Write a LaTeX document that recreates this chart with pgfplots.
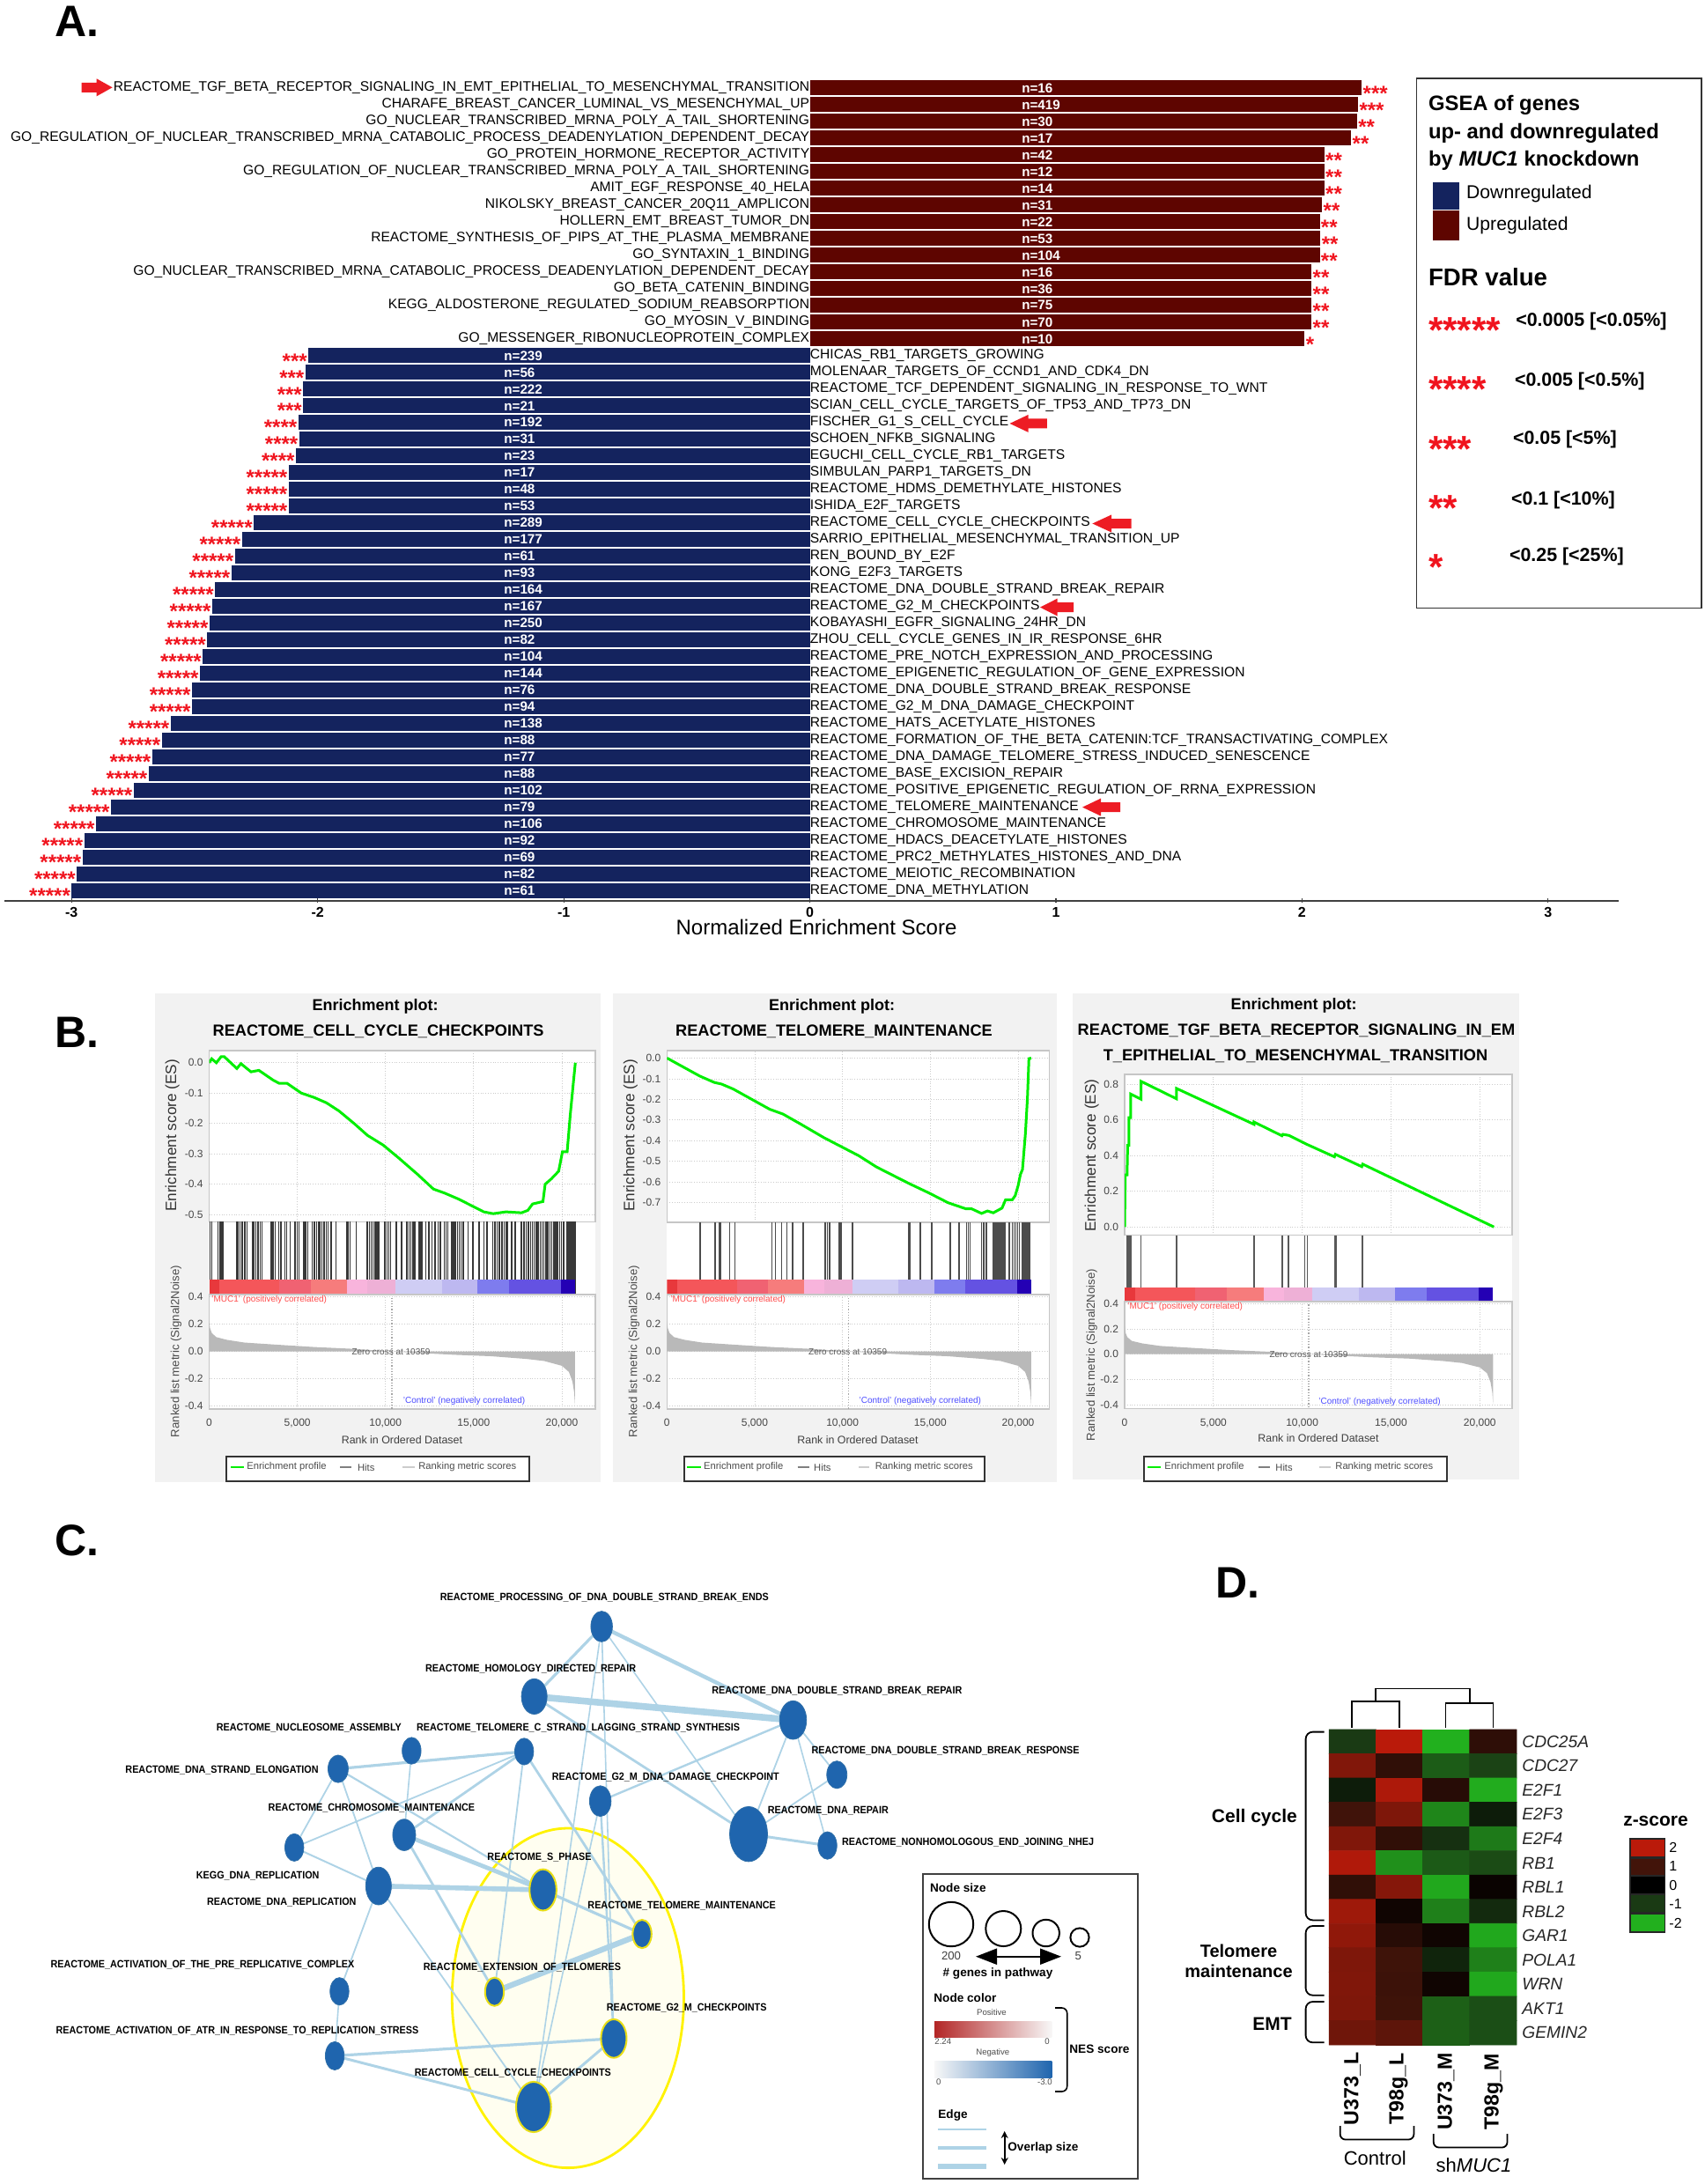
\documentclass[border=0pt]{standalone}
\usepackage{fontspec}
\setmainfont{Liberation Sans}
\usepackage{pgfplots}
\pgfplotsset{compat=1.18}
\usetikzlibrary{arrows.meta}

\definecolor{upc}{HTML}{5E0500}
\definecolor{downc}{HTML}{14235E}
\definecolor{starc}{HTML}{F0141E}
\definecolor{arrowc}{HTML}{ED1C24}
\definecolor{panelbg}{HTML}{F2F2F2}
\definecolor{esgreen}{HTML}{00EE00}
\definecolor{edgec}{HTML}{AED3E6}
\definecolor{nodec}{HTML}{1F65AE}
\definecolor{nodeedge}{HTML}{2F6FA8}

\newcommand{\fs}[1]{\fontsize{#1}{#1}\selectfont}

% 1 px of the reference = 0.5pt here
\pgfplotsset{
  pxbox/.style n args={4}{
    at={({#1*0.5pt},{(2480-#4)*0.5pt})}, anchor=south west,
    width={(#3-#1)*0.5pt}, height={(#4-#2)*0.5pt}, scale only axis},
  overlaypx/.style={pxbox={0}{0}{1936}{2480}, hide axis, clip=false,
    xmin=0, xmax=1936, ymin=0, ymax=2480, y dir=reverse},
  gs/.style={xmin=0, xtick={0,5000,10000,15000,20000}, scaled ticks=false,
    grid=major, grid style={densely dotted, gray!40},
    axis line style={gray!45, line width=.8pt}, major tick length=0pt,
    axis background/.style={fill=white},
    tick label style={font=\fs{6}, text=gray!55!black},
    y tick label style={/pgf/number format/fixed, /pgf/number format/fixed zerofill,
      /pgf/number format/precision=1, /pgf/number format/assume math mode=true},
    xticklabels={}, tick align=inside},
  gsm/.style={gs, xticklabels={0,{5,000},{10,000},{15,000},{20,000}},
    xticklabel style={yshift=-2pt}, ytick={-0.4,-0.2,0,0.2,0.4}},
}

% panel A, one row each: row, NES, n, stars, name
\newcommand{\urow}[5]{%
  \addplot[xbar, bar shift=0pt, bar width=8.5pt, fill=upc, draw=none] coordinates {(#2,-#1)};
  \node[anchor=east, inner sep=0pt, font=\fs{7.8}] at (axis cs:0,-#1) {#5};
  \node[anchor=west, inner sep=0pt, font=\fs{7.6}\bfseries, text=white] at (axis cs:0.86,-#1) {n=#3};
  \node[anchor=west, inner sep=.5pt, font=\fs{12}\bfseries, text=starc, yshift=-3pt] at (axis cs:#2,-#1) {#4};
}
\newcommand{\drow}[5]{%
  \addplot[xbar, bar shift=0pt, bar width=8.5pt, fill=downc, draw=none] coordinates {(#2,-#1)};
  \node[anchor=west, inner sep=0pt, font=\fs{7.8}] at (axis cs:0,-#1) {#5};
  \node[anchor=west, inner sep=0pt, font=\fs{7.6}\bfseries, text=white] at (axis cs:-1.244,-#1) {n=#3};
  \node[anchor=east, inner sep=.5pt, font=\fs{12}\bfseries, text=starc, yshift=-3pt] at (axis cs:#2,-#1) {#4};
}

% panel B helpers
\newcommand{\seg}[3]{\addplot[draw=none, fill=#3, forget plot] coordinates {(#1,0) (#2,0) (#2,0.206) (#1,0.206)} --cycle;}
\newcommand{\strip}{%
  \seg{0}{590}{E8383C}\seg{590}{3980}{F4565A}\seg{3980}{5760}{F06272}\seg{5760}{7810}{F67C7C}%
  \seg{7810}{8970}{F8B4DC}\seg{8970}{10580}{EEB0D6}\seg{10580}{13200}{CFCDF4}\seg{13200}{15220}{BDB8F0}%
  \seg{15220}{17000}{7E7CEE}\seg{17000}{19940}{6452E2}\seg{19940}{20750}{2400B4}%
}
\definecolor{E8383C}{HTML}{E8383C}\definecolor{F4565A}{HTML}{F4565A}\definecolor{F06272}{HTML}{F06272}
\definecolor{F67C7C}{HTML}{F67C7C}\definecolor{F8B4DC}{HTML}{F8B4DC}\definecolor{EEB0D6}{HTML}{EEB0D6}
\definecolor{CFCDF4}{HTML}{CFCDF4}\definecolor{BDB8F0}{HTML}{BDB8F0}\definecolor{7E7CEE}{HTML}{7E7CEE}
\definecolor{6452E2}{HTML}{6452E2}\definecolor{2400B4}{HTML}{2400B4}
\newcommand{\metric}{%
  \addplot[draw=none, fill=gray!55] coordinates {(0,0) (0,0.22) (50,0.17) (150,0.135) (400,0.105) (1000,0.085)
    (2000,0.065) (4000,0.048) (6000,0.032) (8000,0.02) (10359,0) (12000,-0.012) (14000,-0.025) (16000,-0.035)
    (18000,-0.055) (19000,-0.07) (20000,-0.105) (20400,-0.15) (20600,-0.22) (20700,-0.3) (20750,-0.40) (20750,0)} --cycle;
  \addplot[gray!70, densely dotted, line width=.6pt] coordinates {(10359,-0.42) (10359,0.4)};
}
% box x1, x2, line1 x1 x2, text1 x, line2 x1 x2, text2 x, text3 x
\newcommand{\gslegend}[9]{%
  \fill[white] (axis cs:#1,\legy) rectangle (axis cs:#2,\legyy);
  \draw[black!80, line width=1pt] (axis cs:#1,\legy) rectangle (axis cs:#2,\legyy);
  \draw[esgreen, line width=1pt] (axis cs:#3,\legm) -- (axis cs:#4,\legm);
  \node[anchor=west, inner sep=0pt, font=\fs{5.6}, text=black!70] at (axis cs:#5,\legm) {Enrichment profile};
  \draw[gray, line width=.8pt] (axis cs:#6,\legm) -- (axis cs:#7,\legm);
  \node[anchor=west, inner sep=0pt, font=\fs{5.6}, text=black!70] at (axis cs:#8,\legm) {Hits};
  \node[anchor=west, inner sep=0pt, font=\fs{5.6}, text=black!70] at (axis cs:#9,\legm) {Ranking metric scores};
}
\newcommand{\txt}[5]{\node[anchor=#3, inner sep=0pt, font=#4] at (axis cs:#1,#2) {#5};}
\newcommand{\redarrow}[4]{\fill[arrowc] (axis cs:#1,#4) -- (axis cs:#2,#4-10) -- (axis cs:#2,#4-5.5) -- (axis cs:#3,#4-5.5)
  -- (axis cs:#3,#4+5.5) -- (axis cs:#2,#4+5.5) -- (axis cs:#2,#4+10) -- cycle;}

% panel C helpers, in the crop's own units
\newcommand{\edge}[5]{\addplot[edgec, line width=#5pt] coordinates {(#1,#2) (#3,#4)};}
\newcommand{\netnode}[4]{\addplot[only marks, mark=*, mark size={#4*0.1116},
  mark options={xscale={#3/#4*1.714}, fill=nodec, draw=nodeedge, line width=.4pt}] coordinates {(#1,#2)};}
\newcommand{\hotnode}[4]{\addplot[only marks, mark=*, mark size={#4*0.1116},
  mark options={xscale={#3/#4*1.714}, fill=nodec, draw=yellow!90!black, line width=1pt}] coordinates {(#1,#2)};}
\newcommand{\netlab}[3]{\node[anchor=west, inner sep=0pt, font=\fs{6}\bfseries] at (axis cs:#1,#2) {\scalebox{.9}[1]{#3}};}
\newcommand{\gene}[2]{\node[anchor=west, inner sep=0pt, font=\fs{9.6}\itshape, xshift=3pt, text=black!85] at (axis cs:3.5,#1) {#2};}

\begin{document}
\begin{tikzpicture}
\path[use as bounding box] (0,0) rectangle (968pt,1240pt);

% panel backgrounds
\begin{axis}[overlaypx]
  \fill[panelbg] (axis cs:176,1128) rectangle (axis cs:682,1683);
  \fill[panelbg] (axis cs:696,1128) rectangle (axis cs:1200,1683);
  \fill[panelbg] (axis cs:1218,1128) rectangle (axis cs:1725,1680);
\end{axis}

% ---------- A ----------
\begin{axis}[pxbox={5}{81}{1838}{1023}, clip=false,
  xmin=-3.273, xmax=3.287, ymin=-49.61, ymax=0,
  axis x line=bottom, axis y line=none,
  axis line style={-, line width=1pt, black!75},
  xtick={-3,-2,-1,0,1,2,3}, tick style={black!75, line width=.6pt}, major tick length=2.5pt,
  x tick label style={font=\fs{8}\bfseries, /pgf/number format/assume math mode=true, yshift=1pt},
  xlabel={Normalized Enrichment Score},
  xlabel style={at={(axis description cs:.503,-.032)}, anchor=center, font=\fs{12}}]
\urow{1}{2.243}{16}{***}{REACTOME\_TGF\_BETA\_RECEPTOR\_SIGNALING\_IN\_EMT\_EPITHELIAL\_TO\_MESENCHYMAL\_TRANSITION}
\urow{2}{2.228}{419}{***}{CHARAFE\_BREAST\_CANCER\_LUMINAL\_VS\_MESENCHYMAL\_UP}
\urow{3}{2.224}{30}{**}{GO\_NUCLEAR\_TRANSCRIBED\_MRNA\_POLY\_A\_TAIL\_SHORTENING}
\urow{4}{2.200}{17}{**}{GO\_REGULATION\_OF\_NUCLEAR\_TRANSCRIBED\_MRNA\_CATABOLIC\_PROCESS\_DEADENYLATION\_DEPENDENT\_DECAY}
\urow{5}{2.091}{42}{**}{GO\_PROTEIN\_HORMONE\_RECEPTOR\_ACTIVITY}
\urow{6}{2.091}{12}{**}{GO\_REGULATION\_OF\_NUCLEAR\_TRANSCRIBED\_MRNA\_POLY\_A\_TAIL\_SHORTENING}
\urow{7}{2.091}{14}{**}{AMIT\_EGF\_RESPONSE\_40\_HELA}
\urow{8}{2.082}{31}{**}{NIKOLSKY\_BREAST\_CANCER\_20Q11\_AMPLICON}
\urow{9}{2.072}{22}{**}{HOLLERN\_EMT\_BREAST\_TUMOR\_DN}
\urow{10}{2.075}{53}{**}{REACTOME\_SYNTHESIS\_OF\_PIPS\_AT\_THE\_PLASMA\_MEMBRANE}
\urow{11}{2.072}{104}{**}{GO\_SYNTAXIN\_1\_BINDING}
\urow{12}{2.039}{16}{**}{GO\_NUCLEAR\_TRANSCRIBED\_MRNA\_CATABOLIC\_PROCESS\_DEADENYLATION\_DEPENDENT\_DECAY}
\urow{13}{2.039}{36}{**}{GO\_BETA\_CATENIN\_BINDING}
\urow{14}{2.039}{75}{**}{KEGG\_ALDOSTERONE\_REGULATED\_SODIUM\_REABSORPTION}
\urow{15}{2.039}{70}{**}{GO\_MYOSIN\_V\_BINDING}
\urow{16}{2.011}{10}{*}{GO\_MESSENGER\_RIBONUCLEOPROTEIN\_COMPLEX}
\drow{17}{-2.038}{239}{***}{CHICAS\_RB1\_TARGETS\_GROWING}
\drow{18}{-2.050}{56}{***}{MOLENAAR\_TARGETS\_OF\_CCND1\_AND\_CDK4\_DN}
\drow{19}{-2.059}{222}{***}{REACTOME\_TCF\_DEPENDENT\_SIGNALING\_IN\_RESPONSE\_TO\_WNT}
\drow{20}{-2.059}{21}{***}{SCIAN\_CELL\_CYCLE\_TARGETS\_OF\_TP53\_AND\_TP73\_DN}
\drow{21}{-2.079}{192}{****}{FISCHER\_G1\_S\_CELL\_CYCLE}
\drow{22}{-2.075}{31}{****}{SCHOEN\_NFKB\_SIGNALING}
\drow{23}{-2.089}{23}{****}{EGUCHI\_CELL\_CYCLE\_RB1\_TARGETS}
\drow{24}{-2.118}{17}{*****}{SIMBULAN\_PARP1\_TARGETS\_DN}
\drow{25}{-2.118}{48}{*****}{REACTOME\_HDMS\_DEMETHYLATE\_HISTONES}
\drow{26}{-2.118}{53}{*****}{ISHIDA\_E2F\_TARGETS}
\drow{27}{-2.260}{289}{*****}{REACTOME\_CELL\_CYCLE\_CHECKPOINTS}
\drow{28}{-2.308}{177}{*****}{SARRIO\_EPITHELIAL\_MESENCHYMAL\_TRANSITION\_UP}
\drow{29}{-2.337}{61}{*****}{REN\_BOUND\_BY\_E2F}
\drow{30}{-2.351}{93}{*****}{KONG\_E2F3\_TARGETS}
\drow{31}{-2.417}{164}{*****}{REACTOME\_DNA\_DOUBLE\_STRAND\_BREAK\_REPAIR}
\drow{32}{-2.429}{167}{*****}{REACTOME\_G2\_M\_CHECKPOINTS}
\drow{33}{-2.440}{250}{*****}{KOBAYASHI\_EGFR\_SIGNALING\_24HR\_DN}
\drow{34}{-2.449}{82}{*****}{ZHOU\_CELL\_CYCLE\_GENES\_IN\_IR\_RESPONSE\_6HR}
\drow{35}{-2.467}{104}{*****}{REACTOME\_PRE\_NOTCH\_EXPRESSION\_AND\_PROCESSING}
\drow{36}{-2.479}{144}{*****}{REACTOME\_EPIGENETIC\_REGULATION\_OF\_GENE\_EXPRESSION}
\drow{37}{-2.511}{76}{*****}{REACTOME\_DNA\_DOUBLE\_STRAND\_BREAK\_RESPONSE}
\drow{38}{-2.511}{94}{*****}{REACTOME\_G2\_M\_DNA\_DAMAGE\_CHECKPOINT}
\drow{39}{-2.598}{138}{*****}{REACTOME\_HATS\_ACETYLATE\_HISTONES}
\drow{40}{-2.634}{88}{*****}{REACTOME\_FORMATION\_OF\_THE\_BETA\_CATENIN:TCF\_TRANSACTIVATING\_COMPLEX}
\drow{41}{-2.673}{77}{*****}{REACTOME\_DNA\_DAMAGE\_TELOMERE\_STRESS\_INDUCED\_SENESCENCE}
\drow{42}{-2.687}{88}{*****}{REACTOME\_BASE\_EXCISION\_REPAIR}
\drow{43}{-2.748}{102}{*****}{REACTOME\_POSITIVE\_EPIGENETIC\_REGULATION\_OF\_RRNA\_EXPRESSION}
\drow{44}{-2.840}{79}{*****}{REACTOME\_TELOMERE\_MAINTENANCE}
\drow{45}{-2.901}{106}{*****}{REACTOME\_CHROMOSOME\_MAINTENANCE}
\drow{46}{-2.949}{92}{*****}{REACTOME\_HDACS\_DEACETYLATE\_HISTONES}
\drow{47}{-2.956}{69}{*****}{REACTOME\_PRC2\_METHYLATES\_HISTONES\_AND\_DNA}
\drow{48}{-2.979}{82}{*****}{REACTOME\_MEIOTIC\_RECOMBINATION}
\drow{49}{-3.000}{61}{*****}{REACTOME\_DNA\_METHYLATION}
\end{axis}

% ---------- B, cell cycle checkpoints ----------
\begin{axis}[gs, pxbox={237.5}{1193}{676}{1387.5}, xmax=21900, ymin=-0.524, ymax=0.04,
  ytick={-0.5,-0.4,-0.3,-0.2,-0.1,0}]
\addplot[esgreen, line width=1.5pt] coordinates {(0,0) (143,0.013) (410,0) (678,0.02) (856,0.02) (1570,-0.019) (1802,-0.003)
  (2373,-0.03) (2819,-0.025) (3622,-0.057) (3978,-0.068) (4424,-0.068) (5227,-0.10) (5941,-0.114) (6654,-0.132) (7368,-0.159)
  (8260,-0.202) (8974,-0.239) (9866,-0.271) (10758,-0.314) (11828,-0.368) (12720,-0.416) (13345,-0.429) (14147,-0.449)
  (14861,-0.47) (15574,-0.491) (16110,-0.497) (16823,-0.491) (17716,-0.494) (18073,-0.486) (18340,-0.465) (18929,-0.457)
  (19054,-0.40) (19410,-0.382) (19820,-0.357) (20034,-0.293) (20302,-0.293) (20480,-0.17) (20659,-0.062) (20766,0)};
\end{axis}
\begin{axis}[pxbox={237.5}{1387.5}{676}{1470}, xmin=0, xmax=21900, ymin=0, ymax=1, hide y axis, axis line style={gray!45}, xtick=\empty, axis background/.style={fill=white}]
\addplot[ycomb, no markers, black!78, line width=.75pt] coordinates {(54,1)(143,1)(500,1)(589,1)(678,1)(767,1)(1570,1)(1659,1)(1748,1)(1873,1)(2016,1)(2159,1)
 (2462,1)(2551,1)(2640,1)(2765,1)(2908,1)(2997,1)(3532,1)(3622,1)(3746,1)(3943,1)(4068,1)(4299,1)(4389,1)(4603,1)(4870,1)(4995,1)(5102,1)
 (5370,1)(5477,1)(5584,1)(5852,1)(5976,1)(6083,1)(6208,1)(6298,1)(6387,1)(6512,1)(6654,1)(6744,1)(6922,1)(7190,1)(7814,1)(7903,1)(7992,1)(8349,1)
 (8974,1)(9081,1)(9188,1)(9295,1)(9402,1)(9509,1)(9616,1)(9955,1)(10080,1)(10187,1)(10294,1)(10615,1)(10900,1)(11204,1)(11328,1)(11435,1)(11560,1)(11650,1)(11917,1)(12006,1)(12096,1)
 (12274,1)(12452,1)(12631,1)(12809,1)(12988,1)(13112,1)(13344,1)(13434,1)(13523,1)(13755,1)(13862,1)(13969,1)(14076,1)(14182,1)(14289,1)(14415,1)(14683,1)(14950,1)(15307,1)(15574,1)(15753,1)
 (16074,1)(16199,1)(16324,1)(16467,1)(16609,1)(16734,1)(16823,1)(16912,1)(17144,1)(17358,1)(17715,1)(17858,1)(17983,1)
 (18108,1)(18220,1)(18330,1)(18440,1)(18550,1)(18660,1)(18770,1)(18880,1)(18990,1)(19100,1)(19210,1)(19320,1)(19430,1)(19540,1)(19650,1)(19760,1)(19870,1)(19980,1)(20090,1)
 (20300,1)(20350,1)(20400,1)(20450,1)(20500,1)(20550,1)(20600,1)(20650,1)(20700,1)(20750,1)};
\strip
\end{axis}
\begin{axis}[gsm, pxbox={237.5}{1470}{676}{1600}, xmax=21900, ymin=-0.422, ymax=0.417]
\metric
\end{axis}

% ---------- B, telomere maintenance ----------
\begin{axis}[gs, pxbox={757.3}{1193}{1191.5}{1388}, xmax=21780, ymin=-0.795, ymax=0.036,
  ytick={-0.7,-0.6,-0.5,-0.4,-0.3,-0.2,-0.1,0}]
\addplot[esgreen, line width=1.5pt] coordinates {(0,0) (1864,-0.087) (2696,-0.118) (3112,-0.126) (3777,-0.15) (4942,-0.205)
  (5857,-0.248) (6606,-0.271) (7604,-0.319) (8936,-0.385) (9934,-0.429) (10932,-0.473) (11931,-0.527) (13761,-0.606) (14926,-0.653)
  (16008,-0.70) (17006,-0.729) (17339,-0.729) (17921,-0.752) (18254,-0.74) (18587,-0.749) (19086,-0.726) (19286,-0.686) (19668,-0.686)
  (19835,-0.666) (20001,-0.618) (20134,-0.563) (20251,-0.539) (20417,-0.366) (20534,-0.192) (20617,-0.003) (20750,0)};
\end{axis}
\begin{axis}[pxbox={757.3}{1388}{1191.5}{1470}, xmin=0, xmax=21780, ymin=0, ymax=1, hide y axis, axis line style={gray!45}, xtick=\empty, axis background/.style={fill=white}]
\addplot[ycomb, no markers, black!70, line width=.75pt] coordinates {(1864,1)(1914,1)(2746,1)(2995,1)(3078,1)(3561,1)(3860,1)(5974,1)(6190,1)(6523,1)(6822,1)(7155,1)(7771,1)
 (9019,1)(9135,1)(9269,1)(9818,1)(9917,1)(10566,1)(13778,1)(13844,1)(14427,1)(15092,1)(16141,1)(16640,1)(17056,1)(17156,1)(17256,1)(17921,1)(18054,1)(18188,1)
 (18587,1)(18687,1)(18787,1)(18886,1)(18986,1)(19086,1)(19186,1)(19269,1)(19502,1)(19668,1)(19785,1)(19885,1)(19985,1)(20085,1)
 (20218,1)(20284,1)(20351,1)(20417,1)(20484,1)(20550,1)(20617,1)(20667,1)};
\strip
\end{axis}
\begin{axis}[gsm, pxbox={757.3}{1470}{1191.5}{1600}, xmax=21780, ymin=-0.422, ymax=0.417]
\metric
\end{axis}

% ---------- B, TGF beta ----------
\begin{axis}[gs, pxbox={1277}{1220}{1717}{1402.6}, xmax=21820, ymin=-0.046, ymax=0.855,
  ytick={0,0.2,0.4,0.6,0.8}]
\addplot[esgreen, line width=1.5pt] coordinates {(0,0) (34,0.292) (137,0.292) (171,0.457) (239,0.457) (239,0.612) (342,0.612) (342,0.745)
  (923,0.716) (923,0.816) (2924,0.718) (2924,0.776) (7285,0.575) (7285,0.588) (8858,0.511) (8909,0.519) (9251,0.513) (10192,0.466)
  (11816,0.393) (11867,0.407) (13355,0.338) (13406,0.352) (20794,0)};
\end{axis}
\begin{axis}[pxbox={1277}{1402.6}{1717}{1477.8}, xmin=0, xmax=21820, ymin=0, ymax=1, hide y axis, axis line style={gray!45}, xtick=\empty, axis background/.style={fill=white}]
\addplot[ycomb, no markers, black!65, line width=.75pt] coordinates {(137,1)(205,1)(273,1)(342,1)(923,1)(2924,1)(7285,1)(8858,1)(8909,1)(9217,1)(10140,1)(10277,1)(11816,1)(11902,1)(13389,1)};
\strip
\end{axis}
\begin{axis}[gsm, pxbox={1277}{1477.8}{1717}{1599.6}, xmax=21820, ymin=-0.432, ymax=0.418]
\metric
\end{axis}

% ---------- C, network, in crop units ----------
\begin{axis}[pxbox={100}{1780}{1300}{2480}, hide axis, clip=false, xmin=0, xmax=1568, ymin=0, ymax=1568, y dir=reverse]
\draw[yellow, line width=1.4pt, fill=yellow!6] (axis cs:712,1095) ellipse [x radius=65.8pt, y radius=96.4pt];
\edge{762}{150}{662}{328}{1.6}
\edge{762}{150}{1046}{388}{2.2}
\edge{762}{150}{780}{1198}{.8}
\edge{762}{150}{661}{1372}{.8}
\edge{762}{150}{980}{678}{.8}
\edge{662}{328}{1046}{388}{3.8}
\edge{662}{328}{980}{678}{1.4}
\edge{1046}{388}{760}{594}{1.2}
\edge{1046}{388}{980}{678}{.9}
\edge{1046}{388}{1111}{527}{.9}
\edge{1046}{388}{1097}{707}{.8}
\edge{1111}{527}{980}{678}{.9}
\edge{980}{678}{1097}{707}{1.5}
\edge{371}{512}{647}{468}{1.6}
\edge{371}{512}{431}{810}{.9}
\edge{371}{512}{675}{820}{1.1}
\edge{371}{512}{306}{712}{.9}
\edge{480}{466}{469}{680}{.8}
\edge{647}{468}{306}{712}{.9}
\edge{647}{468}{469}{680}{1.4}
\edge{647}{468}{822}{932}{1.4}
\edge{647}{468}{603}{1079}{.9}
\edge{469}{680}{675}{820}{2.4}
\edge{469}{680}{603}{1079}{1.4}
\edge{306}{712}{431}{810}{1}
\edge{431}{810}{675}{820}{2.8}
\edge{431}{810}{661}{1372}{.9}
\edge{431}{810}{373}{1078}{.9}
\edge{675}{820}{822}{932}{1.6}
\edge{822}{932}{603}{1079}{3.2}
\edge{760}{594}{780}{1198}{1.2}
\edge{760}{594}{661}{1372}{.8}
\edge{373}{1078}{366}{1242}{.8}
\edge{366}{1242}{780}{1198}{1.6}
\edge{366}{1242}{661}{1372}{1.5}
\edge{780}{1198}{661}{1372}{1.5}
\netnode{762}{150}{32}{78}
\netnode{662}{328}{38}{90}
\netnode{1046}{388}{40}{98}
\netnode{480}{466}{28}{68}
\netnode{647}{468}{28}{68}
\netnode{371}{512}{30}{70}
\netnode{1111}{527}{30}{70}
\netnode{760}{594}{32}{78}
\netnode{980}{678}{56}{140}
\netnode{1097}{707}{28}{70}
\netnode{469}{680}{34}{80}
\netnode{306}{712}{28}{70}
\netnode{431}{810}{38}{96}
\hotnode{675}{820}{40}{105}
\hotnode{822}{932}{28}{72}
\hotnode{603}{1079}{28}{72}
\netnode{373}{1078}{28}{70}
\hotnode{780}{1198}{38}{98}
\netnode{366}{1242}{28}{72}
\hotnode{661}{1372}{52}{128}
\netlab{522}{76}{REACTOME\_PROCESSING\_OF\_DNA\_DOUBLE\_STRAND\_BREAK\_ENDS}
\netlab{500}{257}{REACTOME\_HOMOLOGY\_DIRECTED\_REPAIR}
\netlab{925}{313}{REACTOME\_DNA\_DOUBLE\_STRAND\_BREAK\_REPAIR}
\netlab{190}{408}{REACTOME\_NUCLEOSOME\_ASSEMBLY}
\netlab{487}{408}{REACTOME\_TELOMERE\_C\_STRAND\_LAGGING\_STRAND\_SYNTHESIS}
\netlab{1073}{466}{REACTOME\_DNA\_DOUBLE\_STRAND\_BREAK\_RESPONSE}
\netlab{55}{515}{REACTOME\_DNA\_STRAND\_ELONGATION}
\netlab{688}{533}{REACTOME\_G2\_M\_DNA\_DAMAGE\_CHECKPOINT}
\netlab{267}{612}{REACTOME\_CHROMOSOME\_MAINTENANCE}
\netlab{1008}{619}{REACTOME\_DNA\_REPAIR}
\netlab{1118}{698}{REACTOME\_NONHOMOLOGOUS\_END\_JOINING\_NHEJ}
\netlab{592}{736}{REACTOME\_S\_PHASE}
\netlab{160}{785}{KEGG\_DNA\_REPLICATION}
\netlab{176}{851}{REACTOME\_DNA\_REPLICATION}
\netlab{741}{861}{REACTOME\_TELOMERE\_MAINTENANCE}
\netlab{-56}{1010}{REACTOME\_ACTIVATION\_OF\_THE\_PRE\_REPLICATIVE\_COMPLEX}
\netlab{497}{1016}{REACTOME\_EXTENSION\_OF\_TELOMERES}
\netlab{769}{1120}{REACTOME\_G2\_M\_CHECKPOINTS}
\netlab{-48}{1178}{REACTOME\_ACTIVATION\_OF\_ATR\_IN\_RESPONSE\_TO\_REPLICATION\_STRESS}
\netlab{484}{1286}{REACTOME\_CELL\_CYCLE\_CHECKPOINTS}
\end{axis}

% ---------- D, heat map ----------
\begin{axis}[pxbox={1509.2}{1964}{1722}{2322}, hide axis, clip=false, xmin=-0.5, xmax=3.5, ymin=-0.5, ymax=12.5, y dir=reverse,
  colormap={hm}{rgb255=(34,176,30) rgb255=(26,58,20) rgb255=(0,0,0) rgb255=(66,20,10) rgb255=(186,26,10)},
  point meta min=-2, point meta max=2]
\addplot[matrix plot*, mesh/cols=4, point meta=explicit, draw=none] table[x=x, y=y, meta=z] {
x y z
0 0 -1.00
1 0 2.00
2 0 -2.00
3 0 0.70
0 1 1.53
1 1 0.73
2 1 -1.29
3 1 -1.08
0 2 -0.48
1 2 1.89
2 2 0.60
3 2 -1.97
0 3 0.97
1 3 1.50
2 3 -1.64
3 3 -0.48
0 4 1.52
1 4 0.73
2 4 -0.83
3 4 -1.54
0 5 1.92
1 5 -1.73
2 5 -1.27
3 5 -1.14
0 6 0.73
1 6 1.56
2 6 -1.93
3 6 0.15
0 7 1.77
1 7 0.24
2 7 -1.59
3 7 -0.72
0 8 1.65
1 8 0.60
2 8 0.24
3 8 -1.93
0 9 1.50
1 9 0.94
2 9 -0.62
3 9 -1.59
0 10 1.52
1 10 0.91
2 10 0.24
3 10 -1.93
0 11 1.50
1 11 0.94
2 11 -1.32
3 11 -1.17
0 12 1.38
1 12 1.23
2 12 -1.32
3 12 -1.17
};
\gene{0}{CDC25A}\gene{1}{CDC27}\gene{2}{E2F1}\gene{3}{E2F3}\gene{4}{E2F4}\gene{5}{RB1}\gene{6}{RBL1}
\gene{7}{RBL2}\gene{8}{GAR1}\gene{9}{POLA1}\gene{10}{WRN}\gene{11}{AKT1}\gene{12}{GEMIN2}
\end{axis}

% ---------- text and furniture in reference pixels ----------
\begin{axis}[overlaypx]
% panel letters
\txt{62}{24}{west}{\fs{25}\bfseries}{A.}
\txt{62}{1172}{west}{\fs{25}\bfseries}{B.}
\txt{62}{1749}{west}{\fs{25}\bfseries}{C.}
\txt{1380}{1797}{west}{\fs{25}\bfseries}{D.}

% A arrows
\redarrow{127.6}{109.7}{92.5}{99.3}
\redarrow{1146.5}{1167.7}{1188.8}{480.9}
\redarrow{1240.4}{1262}{1284.7}{594.5}
\redarrow{1181}{1200.7}{1219}{689.6}
\redarrow{1229}{1250}{1272}{916.6}

% A legend
\draw[black!80, line width=.9pt] (axis cs:1608.5,88.6) rectangle (axis cs:1932,690.5);
\txt{1621.7}{119.8}{west}{\fs{11.9}\bfseries}{GSEA of genes}
\txt{1621.7}{151}{west}{\fs{11.9}\bfseries}{up- and downregulated}
\txt{1621.7}{182}{west}{\fs{11.9}\bfseries}{by \textit{MUC1} knockdown}
\fill[downc] (axis cs:1627,206.5) rectangle (axis cs:1657,237.6);
\fill[upc] (axis cs:1627,239) rectangle (axis cs:1657,272.5);
\txt{1664.7}{220}{west}{\fs{10.6}}{Downregulated}
\txt{1664.7}{256.5}{west}{\fs{10.6}}{Upregulated}
\txt{1621.7}{314.6}{west}{\fs{13.8}\bfseries}{FDR value}
\txt{1621.7}{375}{west}{\fs{21}\bfseries\color{starc}}{*****}
\txt{1621.7}{442}{west}{\fs{21}\bfseries\color{starc}}{****}
\txt{1621.7}{510}{west}{\fs{21}\bfseries\color{starc}}{***}
\txt{1621.7}{577}{west}{\fs{21}\bfseries\color{starc}}{**}
\txt{1621.7}{644}{west}{\fs{21}\bfseries\color{starc}}{*}
\txt{1720.9}{365}{west}{\fs{10.7}\bfseries}{<0.0005 [<0.05\%]}
\txt{1719.6}{432.5}{west}{\fs{10.7}\bfseries}{<0.005 [<0.5\%]}
\txt{1717.6}{498.6}{west}{\fs{10.7}\bfseries}{<0.05 [<5\%]}
\txt{1715.6}{568}{west}{\fs{10.7}\bfseries}{<0.1 [<10\%]}
\txt{1713.6}{632.4}{west}{\fs{10.7}\bfseries}{<0.25 [<25\%]}

% B titles, labels
\txt{426}{1143}{center}{\fs{9}\bfseries}{Enrichment plot:}
\txt{429.6}{1171}{center}{\fs{9.1}\bfseries}{REACTOME\_CELL\_CYCLE\_CHECKPOINTS}
\txt{944.7}{1143}{center}{\fs{9}\bfseries}{Enrichment plot:}
\txt{947}{1171}{center}{\fs{9.1}\bfseries}{REACTOME\_TELOMERE\_MAINTENANCE}
\txt{1469}{1142}{center}{\fs{9}\bfseries}{Enrichment plot:}
\txt{1472}{1170}{center}{\fs{9.1}\bfseries}{REACTOME\_TGF\_BETA\_RECEPTOR\_SIGNALING\_IN\_EM}
\txt{1471}{1199.6}{center}{\fs{9.1}\bfseries}{T\_EPITHELIAL\_TO\_MESENCHYMAL\_TRANSITION}

\node[rotate=90, inner sep=0pt, font=\fs{8.6}, text=black!80] at (axis cs:195.7,1289.4) {Enrichment score (ES)};
\node[rotate=90, inner sep=0pt, font=\fs{6.6}, text=black!70] at (axis cs:200,1534.5) {Ranked list metric (Signal2Noise)};
\node[rotate=90, inner sep=0pt, font=\fs{8.6}, text=black!80] at (axis cs:715.9,1289.4) {Enrichment score (ES)};
\node[rotate=90, inner sep=0pt, font=\fs{6.6}, text=black!70] at (axis cs:719.9,1534.5) {Ranked list metric (Signal2Noise)};
\node[rotate=90, inner sep=0pt, font=\fs{8.6}, text=black!80] at (axis cs:1239.6,1312) {Enrichment score (ES)};
\node[rotate=90, inner sep=0pt, font=\fs{6.6}, text=black!70] at (axis cs:1239.6,1538.5) {Ranked list metric (Signal2Noise)};

\txt{456.4}{1634.6}{center}{\fs{6.2}\color{black!75}}{Rank in Ordered Dataset}
\txt{974}{1634.6}{center}{\fs{6.2}\color{black!75}}{Rank in Ordered Dataset}
\txt{1497}{1633}{center}{\fs{6.2}\color{black!75}}{Rank in Ordered Dataset}

\txt{240}{1476}{west}{\fs{5}\color{red!70}}{'MUC1' (positively correlated)}
\txt{761}{1476}{west}{\fs{5}\color{red!70}}{'MUC1' (positively correlated)}
\txt{1280}{1484}{west}{\fs{5}\color{red!70}}{'MUC1' (positively correlated)}
\txt{457.5}{1591}{west}{\fs{5}\color{blue!70}}{'Control' (negatively correlated)}
\txt{975.2}{1591}{west}{\fs{5}\color{blue!70}}{'Control' (negatively correlated)}
\txt{1497}{1591.5}{west}{\fs{5}\color{blue!70}}{'Control' (negatively correlated)}
\txt{444}{1535.5}{center}{\fs{5}\color{black!65}}{Zero cross at 10359}
\txt{962.6}{1535.5}{center}{\fs{5}\color{black!65}}{Zero cross at 10359}
\txt{1486}{1537.8}{center}{\fs{5}\color{black!65}}{Zero cross at 10359}

\def\legy{1654}\def\legyy{1681.6}\def\legm{1666}
\gslegend{257}{601}{262}{277}{280}{386}{399}{405.7}{475}
\draw[gray!40, line width=.7pt] (axis cs:457,1666) -- (axis cs:471,1666);
\gslegend{777}{1118}{780}{795.5}{798.8}{905.6}{918.8}{923.8}{993.5}
\draw[gray!40, line width=.7pt] (axis cs:975,1666) -- (axis cs:987,1666);
\gslegend{1299}{1643}{1303}{1318}{1322}{1429}{1442}{1448}{1516}
\draw[gray!40, line width=.7pt] (axis cs:1498,1666) -- (axis cs:1511,1666);

% C legend
\draw[black!75, line width=.9pt] (axis cs:1048,2128) rectangle (axis cs:1292,2474);
\txt{1055.7}{2144}{west}{\fs{6.8}\bfseries}{Node size}
\draw[black, line width=1pt] (axis cs:1080,2185) circle [radius=12.6pt];
\draw[black, line width=1pt] (axis cs:1139.3,2190) circle [radius=10pt];
\draw[black, line width=1pt] (axis cs:1187.7,2195) circle [radius=7.6pt];
\draw[black, line width=1pt] (axis cs:1226,2200) circle [radius=5.3pt];
\txt{1080}{2221}{center}{\fs{6.6}\color{black!75}}{200}
\txt{1224.3}{2221}{center}{\fs{6.6}\color{black!75}}{5}
\draw[{Triangle[width=9pt,length=12pt]}-{Triangle[width=9pt,length=12pt]}, line width=1.1pt] (axis cs:1108,2221.7) -- (axis cs:1205,2221.7);
\txt{1133}{2240.7}{center}{\fs{6.8}\bfseries}{\# genes in pathway}
\txt{1060}{2269}{west}{\fs{6.8}\bfseries}{Node color}
\txt{1126}{2285}{center}{\fs{4.8}\color{black!70}}{Positive}
\shade[left color=red!65!black!85, right color=black!3] (axis cs:1061,2295) rectangle (axis cs:1194.3,2313.3);
\txt{1061}{2318.5}{west}{\fs{4.8}\color{black!70}}{2.24}
\txt{1192}{2318.5}{east}{\fs{4.8}\color{black!70}}{0}
\txt{1127.3}{2330.7}{center}{\fs{4.8}\color{black!70}}{Negative}
\shade[left color=black!3, right color=nodec] (axis cs:1061,2340.7) rectangle (axis cs:1194.3,2359.3);
\txt{1062.7}{2364.5}{west}{\fs{4.8}\color{black!70}}{0}
\txt{1195}{2364.5}{east}{\fs{4.8}\color{black!70}}{-3.0}
\draw[black, line width=.8pt, rounded corners=3pt] (axis cs:1198,2280) -- (axis cs:1211.7,2280) -- (axis cs:1211.7,2375) -- (axis cs:1198,2375);
\txt{1214}{2326.7}{west}{\fs{6.8}\bfseries}{NES score}
\txt{1065}{2402}{west}{\fs{6.8}\bfseries}{Edge}
\draw[edgec, line width=1pt] (axis cs:1065,2418) -- (axis cs:1120,2418);
\draw[edgec, line width=1.8pt] (axis cs:1065,2439) -- (axis cs:1120,2439);
\draw[edgec, line width=3.4pt] (axis cs:1065,2460) -- (axis cs:1120,2460);
\draw[{Stealth[width=4pt,length=4pt]}-{Stealth[width=4pt,length=4pt]}, line width=.8pt] (axis cs:1140.7,2420) -- (axis cs:1140.7,2458);
\txt{1144}{2439.3}{west}{\fs{6.8}\bfseries}{Overlap size}

% D dendrogram and brackets
\addplot[black, line width=.9pt, forget plot] coordinates {(1535,1962) (1535,1931.8) (1589,1931.8) (1589,1962)};
\addplot[black, line width=.9pt, forget plot] coordinates {(1641.5,1962) (1641.5,1934) (1695.5,1934) (1695.5,1962)};
\addplot[black, line width=.9pt, forget plot] coordinates {(1561.7,1931.8) (1561.7,1917.5) (1669,1917.5) (1669,1934)};
\draw[black, line width=.9pt, rounded corners=4pt] (axis cs:1503.5,1966.6) -- (axis cs:1482.6,1966.6) -- (axis cs:1482.6,2180.4) -- (axis cs:1503.5,2180.4);
\draw[black, line width=.9pt, rounded corners=4pt] (axis cs:1503.5,2187) -- (axis cs:1482.6,2187) -- (axis cs:1482.6,2265.7) -- (axis cs:1503.5,2265.7);
\draw[black, line width=.9pt, rounded corners=4pt] (axis cs:1503.5,2273) -- (axis cs:1482.6,2273) -- (axis cs:1482.6,2319.3) -- (axis cs:1503.5,2319.3);
\txt{1424.4}{2064}{center}{\fs{10.5}\bfseries}{Cell cycle}
\txt{1406.5}{2215.7}{center}{\fs{10}\bfseries}{Telomere}
\txt{1406.5}{2238.5}{center}{\fs{10}\bfseries}{maintenance}
\txt{1444.6}{2298}{center}{\fs{10.5}\bfseries}{EMT}
\node[rotate=90, inner sep=0pt, font=\fs{11.6}\bfseries] at (axis cs:1535.8,2372) {U373\_L};
\node[rotate=90, inner sep=0pt, font=\fs{11.6}\bfseries] at (axis cs:1588,2372) {T98g\_L};
\node[rotate=90, inner sep=0pt, font=\fs{11.6}\bfseries] at (axis cs:1642,2375) {U373\_M};
\node[rotate=90, inner sep=0pt, font=\fs{11.6}\bfseries] at (axis cs:1696,2375) {T98g\_M};
\draw[black, line width=.9pt, rounded corners=3pt] (axis cs:1521.7,2414) -- (axis cs:1521.7,2429.5) -- (axis cs:1605.4,2429.5) -- (axis cs:1605.4,2414);
\draw[black, line width=.9pt, rounded corners=3pt] (axis cs:1627.8,2423) -- (axis cs:1627.8,2438.5) -- (axis cs:1711.5,2438.5) -- (axis cs:1711.5,2423);
\txt{1561.3}{2451}{center}{\fs{11}}{Control}
\txt{1673.5}{2458.6}{center}{\fs{11}}{sh\textit{MUC1}}

% D colour key
\txt{1880}{2068}{center}{\fs{10.5}\bfseries}{z-score}
\fill[black!85] (axis cs:1850.3,2087) rectangle (axis cs:1891.3,2195);
\fill[fill={rgb,255:red,186;green,26;blue,10}] (axis cs:1852,2089) rectangle (axis cs:1889.5,2108);
\fill[fill={rgb,255:red,66;green,20;blue,10}] (axis cs:1852,2111) rectangle (axis cs:1889.5,2129);
\fill[black] (axis cs:1852,2131) rectangle (axis cs:1889.5,2150);
\fill[fill={rgb,255:red,26;green,58;blue,20}] (axis cs:1852,2152) rectangle (axis cs:1889.5,2171);
\fill[fill={rgb,255:red,34;green,176;blue,30}] (axis cs:1852,2174) rectangle (axis cs:1889.5,2193);
\txt{1895}{2098}{west}{\fs{8}}{2}
\txt{1895}{2119}{west}{\fs{8}}{1}
\txt{1895}{2140.7}{west}{\fs{8}}{0}
\txt{1895}{2161.7}{west}{\fs{8}}{-1}
\txt{1895}{2184}{west}{\fs{8}}{-2}
\end{axis}
\end{tikzpicture}
\end{document}
